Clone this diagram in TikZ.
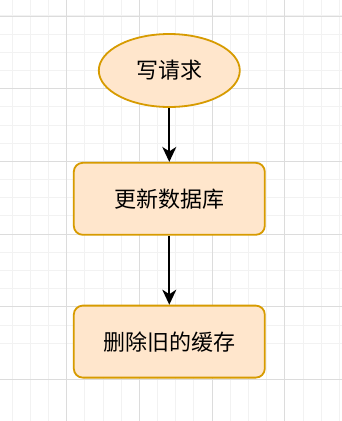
\documentclass[tikz,border=0pt]{standalone}
\usepackage{fontspec}
\newfontfamily\cjk{Noto Sans CJK SC}
\usetikzlibrary{shapes.geometric, arrows.meta, positioning}
\definecolor{boxfill}{HTML}{FFE6CC}
\definecolor{boxline}{HTML}{D79B00}
\definecolor{gridmajor}{HTML}{DCDCDC}
\definecolor{gridminor}{HTML}{F2F2F2}

\begin{document}
\begin{tikzpicture}[
    node distance=55pt,
    start/.style={ellipse, draw=boxline, fill=boxfill, line width=1.8pt, minimum width=141pt, minimum height=73pt, inner sep=0pt, font=\cjk\fontsize{22}{26}\selectfont},
    process/.style={rectangle, draw=boxline, fill=boxfill, line width=1.8pt, rounded corners=9pt, minimum width=191pt, minimum height=72pt, align=center, font=\cjk\fontsize{22}{26}\selectfont},
    arrow/.style={-{Stealth[length=15pt, width=14pt, inset=4.5pt]}, line width=2pt, draw=black}
]
\useasboundingbox (0,0) rectangle (342pt,-421pt);
\fill[white] (0,0) rectangle (342pt,-421pt);

% Grid
\begin{scope}
\clip (0,0) rectangle (342pt,-421pt);
\foreach \i in {0,...,19} {
    \pgfmathsetmacro\gx{-6+18.18*\i}
    \pgfmathsetmacro\gy{-2.2+18.18*\i}
    \draw[gridminor, line width=1pt] (\gx pt,0) -- (\gx pt,-421pt);
    \draw[gridminor, line width=1pt] (0,-\gy pt) -- (342pt,-\gy pt);
}
\foreach \i in {0,...,5} {
    \pgfmathsetmacro\gx{-6+72.72*\i}
    \pgfmathsetmacro\gy{16+72.72*\i}
    \draw[gridmajor, line width=1pt] (\gx pt,0) -- (\gx pt,-421pt);
    \draw[gridmajor, line width=1pt] (0,-\gy pt) -- (342pt,-\gy pt);
}
\end{scope}

% Nodes
\node[start] (req) at (169.3pt,-70.5pt) {写请求};
\node[process, below=54pt of req] (db) {更新数据库};
\node[process, below=69pt of db] (cache) {删除旧的缓存};

% Connectors
\draw[arrow] (req) -- (db);
\draw[arrow] (db) -- (cache);

\end{tikzpicture}
\end{document}
